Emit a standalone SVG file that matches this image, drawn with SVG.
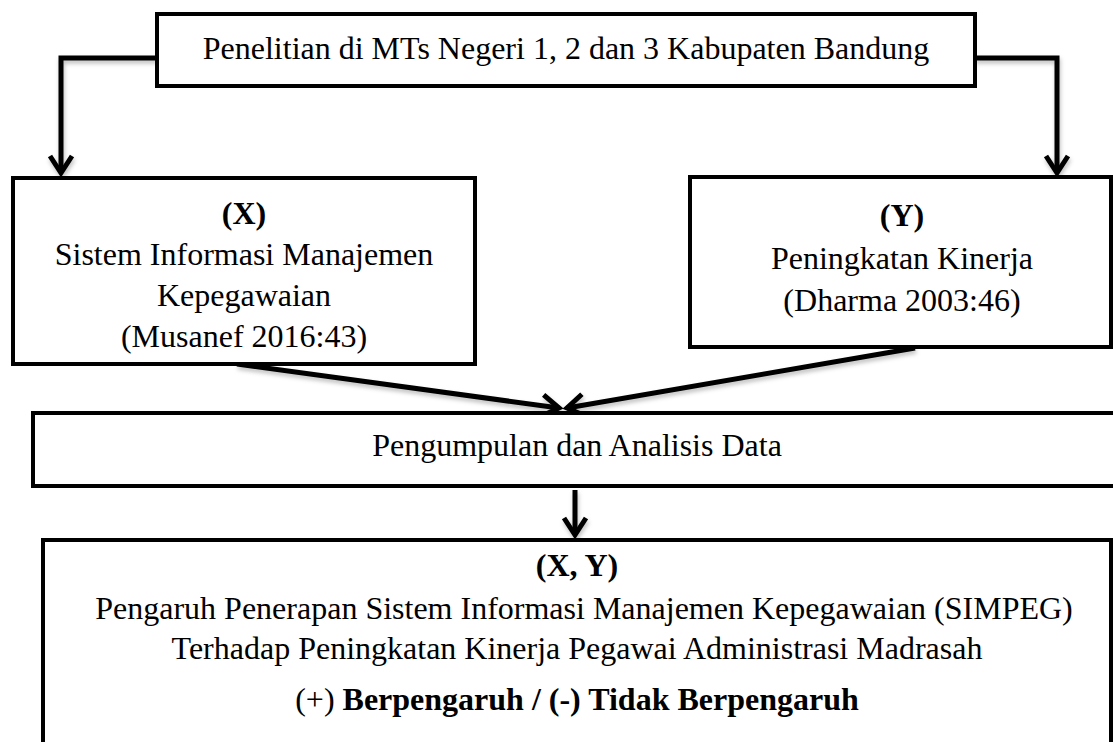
<svg xmlns="http://www.w3.org/2000/svg" width="1113" height="742" viewBox="0 0 1113 742">
<defs>
<style>
.box{fill:#fff;stroke:#000;stroke-width:4;stroke-linejoin:miter}
.t{font-family:"Liberation Serif","Times New Roman",serif;font-size:32px;fill:#000;text-anchor:middle}
.b{font-weight:bold}
.c{fill:none;stroke:#000;stroke-width:5;stroke-linejoin:miter}
</style>
<marker id="arr" markerUnits="userSpaceOnUse" viewBox="-20 -14 24 28" refX="0" refY="0" markerWidth="24" markerHeight="28" orient="auto" overflow="visible">
<path d="M-17,-11 L0,0 L-17,11" fill="none" stroke="#000" stroke-width="5" stroke-linejoin="miter" stroke-linecap="butt"/>
</marker>
<filter id="sh" x="-10%" y="-10%" width="120%" height="130%">
<feDropShadow dx="1" dy="3" stdDeviation="2" flood-color="#000" flood-opacity="0.25"/>
</filter>
</defs>
<rect width="1113" height="742" fill="#fff"/>
<g id="connectors" filter="url(#sh)">
<path class="c" d="M157,58 H61 V173" marker-end="url(#arr)"/>
<path class="c" d="M975,58 H1057 V173" marker-end="url(#arr)"/>
<path class="c" d="M237,364 L559,408" marker-end="url(#arr)"/>
<path class="c" d="M915,348 L567,408" marker-end="url(#arr)"/>
<path class="c" d="M575,490 V535" marker-end="url(#arr)"/>
</g>
<g id="top">
<rect class="box" x="157" y="14" width="818" height="72"/>
<text class="t" x="566" y="59">Penelitian di MTs Negeri 1, 2 dan 3 Kabupaten Bandung</text>
</g>
<g id="x">
<rect class="box" x="13" y="178" width="462" height="186"/>
<text class="t b" x="244" y="224">(X)</text>
<text class="t" x="244" y="265">Sistem Informasi Manajemen</text>
<text class="t" x="244" y="306">Kepegawaian</text>
<text class="t" x="244" y="347">(Musanef 2016:43)</text>
</g>
<g id="y">
<rect class="box" x="690" y="177" width="421" height="170"/>
<text class="t b" x="902" y="226">(Y)</text>
<text class="t" x="902" y="269">Peningkatan Kinerja</text>
<text class="t" x="902" y="311">(Dharma 2003:46)</text>
</g>
<g id="data">
<rect class="box" x="33" y="413" width="1100" height="73"/>
<text class="t" x="577" y="456">Pengumpulan dan Analisis Data</text>
</g>
<g id="result">
<rect class="box" x="43" y="540" width="1068" height="230"/>
<text class="t b" x="577" y="576">(X, Y)</text>
<text class="t" x="584" y="619">Pengaruh Penerapan Sistem Informasi Manajemen Kepegawaian (SIMPEG)</text>
<text class="t" x="577" y="659">Terhadap Peningkatan Kinerja Pegawai Administrasi Madrasah</text>
<text class="t" x="577" y="710">(+) <tspan class="b">Berpengaruh / (-) Tidak Berpengaruh</tspan></text>
</g>
</svg>
